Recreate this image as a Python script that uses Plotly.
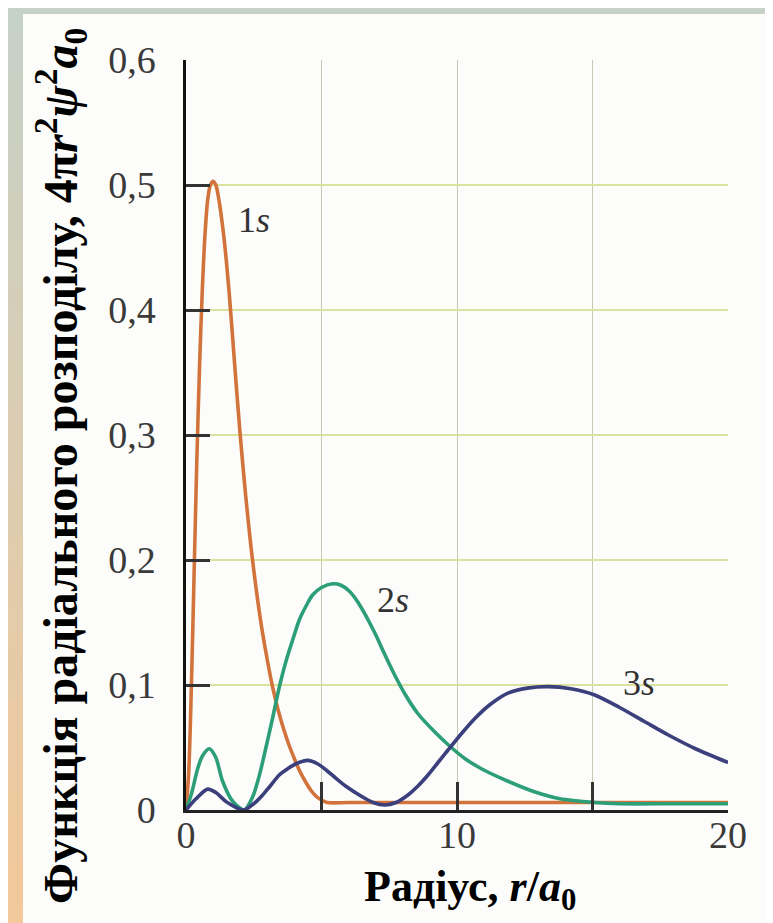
import plotly.graph_objects as go

# ---------------- data ----------------
r_1s = [0, 0.1, 0.2, 0.3, 0.4, 0.5, 0.6, 0.7, 0.8, 0.9, 1.0, 1.1, 1.2, 1.4, 1.6, 1.8,
        2.0, 2.2, 2.4, 2.6, 2.8, 3.0, 3.2, 3.4, 3.6, 3.8, 4.0, 4.2, 4.4, 4.6, 4.8,
        5.0, 5.2, 6, 8, 10, 12, 14, 16, 18, 20]
v_1s = [0, 0.03, 0.10, 0.19, 0.28, 0.355, 0.415, 0.46, 0.488, 0.50, 0.503, 0.50, 0.49,
        0.458, 0.412, 0.355, 0.30, 0.252, 0.21, 0.175, 0.145, 0.12, 0.098, 0.08,
        0.065, 0.052, 0.041, 0.031, 0.023, 0.016, 0.011, 0.008, 0.006, 0.006, 0.006,
        0.006, 0.006, 0.006, 0.006, 0.006, 0.006]

r_2s = [0, 0.2, 0.43, 0.6, 0.86, 1.1, 1.35, 1.72, 2.15, 2.45, 2.71, 2.95, 3.2, 3.44,
        3.69, 3.95, 4.18, 4.45, 4.67, 5.0, 5.41, 5.7, 6.03, 6.35, 6.96, 7.3, 7.7, 8.1,
        8.56, 9.2, 9.79, 10.3, 10.9, 11.88, 12.8, 13.8, 15.1, 16, 18, 20]
v_2s = [0, 0.013, 0.033, 0.043, 0.049, 0.042, 0.023, 0.007, 0.0, 0.01, 0.028, 0.05,
        0.074, 0.098, 0.119, 0.137, 0.152, 0.164, 0.172, 0.178, 0.181, 0.18, 0.175,
        0.166, 0.142, 0.126, 0.108, 0.092, 0.077, 0.062, 0.05, 0.041, 0.033, 0.023,
        0.015, 0.009, 0.006, 0.005, 0.005, 0.005]

r_3s = [0, 0.37, 0.8, 1.1, 1.48, 1.85, 2.15, 2.5, 2.83, 3.1, 3.44, 3.75, 4.06, 4.49,
        4.85, 5.17, 5.5, 5.9, 6.47, 6.9, 7.33, 7.75, 8.19, 8.55, 8.93, 9.3, 9.67,
        10.2, 10.65, 11.2, 11.88, 12.6, 13.36, 14.2, 15.08, 16.0, 16.9, 17.8, 18.8, 20]
v_3s = [0, 0.009, 0.0167, 0.014, 0.0067, 0.002, 0.0, 0.005, 0.012, 0.019, 0.028,
        0.033, 0.037, 0.0397, 0.037, 0.032, 0.026, 0.019, 0.011, 0.006, 0.004, 0.006,
        0.012, 0.019, 0.028, 0.038, 0.048, 0.062, 0.073, 0.084, 0.0935, 0.0975,
        0.0987, 0.097, 0.092, 0.082, 0.071, 0.06, 0.049, 0.038]

x_tickvals = [0, 5, 10, 15, 20]
x_ticktext = ["0", "", "10", "", "20"]
y_tickvals = [0, 0.1, 0.2, 0.3, 0.4, 0.5, 0.6]
y_ticktext = ["0", "0,1", "0,2", "0,3", "0,4", "0,5", "0,6"]

series_labels = ["1<i>s</i>", "2<i>s</i>", "3<i>s</i>"]
label_pos_r = [2.5, 7.65, 16.7]
label_pos_v = [0.472, 0.168, 0.102]

y_title = ("<b>Функція радіального розподілу, 4π<i>r</i><sup>2</sup>"
           "<i>ψ</i><sup>2</sup><i>a</i><sub>0</sub></b>")
x_title = "<b>Радіус, <i>r</i>/<i>a</i><sub>0</sub></b>"

# ---------------- layout geometry ----------------
W, H = 773, 923
ML, MR, MT, MB = 178, 53, 52, 121
PW, PH = W - ML - MR, H - MT - MB


def px(xp):
    return (xp - ML) / PW


def py(yp):
    return (H - MB - yp) / PH


FONT = "Liberation Serif"

fig = go.Figure()
colors = ["#d2733c", "#2c9f78", "#3b3f7c"]
for r, v, c in [(r_1s, v_1s, colors[0]), (r_2s, v_2s, colors[1]), (r_3s, v_3s, colors[2])]:
    fig.add_trace(go.Scatter(x=r, y=v, mode="lines",
                             line=dict(color=c, width=3.6, shape="spline", smoothing=0.8),
                             hoverinfo="skip", showlegend=False))

# background: gradient frame + white sheet
shapes = []
top = (0xc6, 0xd2, 0xc8)
bot = (0xf4, 0xc8, 0x9a)
N = 40
for i in range(N):
    t = (i + 0.5) / N
    col = tuple(int(top[k] + (bot[k] - top[k]) * t) for k in range(3))
    y0 = H * i / N
    y1 = H * (i + 1) / N + 1
    shapes.append(dict(type="rect", xref="paper", yref="paper", layer="below",
                       x0=px(0), x1=px(W), y0=py(y1), y1=py(y0),
                       fillcolor="rgb(%d,%d,%d)" % col, line=dict(width=0)))
shapes.append(dict(type="rect", xref="paper", yref="paper", layer="below",
                   x0=px(15), x1=px(768), y0=py(H), y1=py(6),
                   fillcolor="#fcfdfb", line=dict(width=0)))

annotations = []
for t, xr, yv in zip(series_labels, label_pos_r, label_pos_v):
    annotations.append(dict(x=xr, y=yv, xref="x", yref="y", text=t, showarrow=False,
                            font=dict(family=FONT, size=36, color="#333333")))
annotations.append(dict(x=px(52), y=py(458), xref="paper", yref="paper", text=y_title,
                        textangle=-90, showarrow=False, xanchor="center", yanchor="middle",
                        font=dict(family=FONT, size=48, color="#000000")))
annotations.append(dict(x=px(462), y=py(881), xref="paper", yref="paper", text=x_title,
                        showarrow=False, xanchor="center", yanchor="middle",
                        font=dict(family=FONT, size=44, color="#000000")))

fig.update_layout(
    width=W, height=H,
    margin=dict(l=ML, r=MR, t=MT, b=MB, autoexpand=False),
    paper_bgcolor="#c9d4ca", plot_bgcolor="#fcfdfb",
    font=dict(family=FONT),
    shapes=shapes, annotations=annotations,
    xaxis=dict(range=[0, 20], tickvals=x_tickvals, ticktext=x_ticktext,
               ticks="inside", ticklen=28, tickwidth=2.5, tickcolor="#333333",
               showline=True, linecolor="#222222", linewidth=2.5,
               showgrid=True, gridcolor="#c3cbb2", gridwidth=1.2, zeroline=False,
               ticklabelstandoff=-10, automargin=False,
               tickfont=dict(family=FONT, size=38, color="#3a3a3a")),
    yaxis=dict(range=[0, 0.6], tickvals=y_tickvals, ticktext=y_ticktext,
               ticks="inside", ticklen=24, tickwidth=3, tickcolor="#333333",
               showline=True, linecolor="#111111", linewidth=2.5,
               showgrid=True, gridcolor="#dbe29e", gridwidth=2, zeroline=False,
               ticklabelstandoff=20, automargin=False,
               tickfont=dict(family=FONT, size=38, color="#3a3a3a")),
)

fig.write_html("out.html")
